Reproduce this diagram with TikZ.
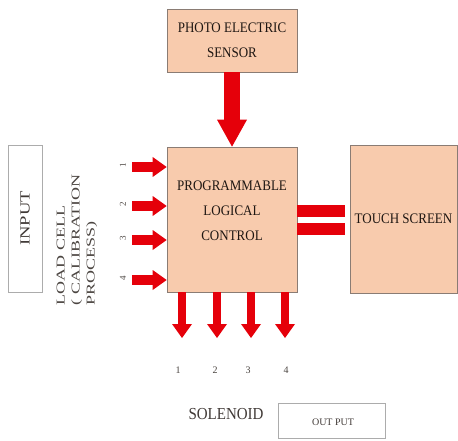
\documentclass[tikz,border=0pt]{standalone}
\usepackage{fontspec}
\setmainfont{Liberation Serif}
\usepackage{graphicx}
\usetikzlibrary{arrows.meta}
\definecolor{peach}{HTML}{F8CBAD}
\definecolor{boxline}{HTML}{8A7C74}
\definecolor{arrred}{HTML}{E5000A}
\definecolor{txt}{HTML}{1E1612}
\newcommand{\tallline}[1]{\scalebox{1}[1.12]{#1}}
\begin{document}
\begin{tikzpicture}[x=1pt,y=-1pt,
  peachbox/.style={draw=boxline, fill=peach, line width=0.7pt, inner sep=0pt},
  graybox/.style={draw=gray!65, line width=0.7pt, inner sep=0pt},
  lbl/.style={font=\fontsize{13}{25}\selectfont, align=center, text=txt, inner sep=0pt},
  num/.style={font=\fontsize{9}{9}\selectfont, text=txt!80, inner sep=0pt},
  inarrow/.style={draw=arrred, line width=10pt, -{Triangle[width=20pt,length=14pt,line width=0pt]}},
  outarrow/.style={draw=arrred, line width=8pt, -{Triangle[width=20pt,length=14pt,line width=0pt]}},
  bigarrow/.style={draw=arrred, line width=16pt, -{Triangle[width=30pt,length=27pt,line width=0pt]}},
  bar/.style={draw=arrred, line width=12pt}]
\useasboundingbox (0,0) rectangle (458,441);

% boxes
\node[peachbox, minimum width=130pt, minimum height=63pt] (ps) at (232,40.5) {};
\node[lbl] (pst) at (ps.center) {\tallline{PHOTO ELECTRIC}\\\tallline{SENSOR}};
\node[peachbox, minimum width=130pt, minimum height=145pt] (plc) at (232,219.5) {};
\node[lbl] (plct) at (232,211) {\tallline{PROGRAMMABLE}\\\tallline{LOGICAL}\\\tallline{CONTROL}};
\node[peachbox, minimum width=107pt, minimum height=148pt] (ts) at (403.5,219) {};
\node[lbl] (tst) at (ts.center) {\tallline{TOUCH SCREEN}};

% input box and load cell
\node[graybox, minimum width=34pt, minimum height=147pt] (inbox) at (25,218.5) {};
\node[rotate=90, font=\fontsize{14}{14}\selectfont, text=txt!85, inner sep=0pt] (inputt) at (inbox.center) {\scalebox{1.33}[1]{INPUT}};
\node[rotate=90, font=\fontsize{12}{15}\selectfont, text=txt!80, align=left, inner sep=0pt] (lc) at (77,240)
  {\scalebox{1.5}[1]{LOAD CELL}\\\scalebox{1.5}[1]{( CALIBRATION}\\\scalebox{1.5}[1]{PROCESS)}};

% input arrows
\foreach \i/\y in {1/167,2/206,3/240,4/280}{
  \coordinate (in\i) at (132,\y);
  \node[num, rotate=90] (inn\i) at (123,\y-2) {\i};
  \draw[inarrow] (in\i) -- (plc.west |- in\i);
}

% sensor arrow
\draw[bigarrow] (ps.south) -- (plc.north);

% bars to touch screen
\draw[bar] (plc.east |- 0,211) -- ([xshift=-5pt]ts.west |- 0,211);
\draw[bar] (plc.east |- 0,229) -- ([xshift=-5pt]ts.west |- 0,229);

% output arrows
\foreach \i/\x/\nx in {1/182/178,2/217/215,3/251/248,4/285/286}{
  \coordinate (out\i) at (\x,338);
  \draw[outarrow] (out\i |- plc.south) -- (out\i);
  \node[num, font=\fontsize{10}{10}\selectfont] (outn\i) at (\nx,370) {\i};
}

% solenoid / output
\node[font=\fontsize{15}{15}\selectfont, text=txt!85, inner sep=0pt] (sol) at (226,414) {\tallline{SOLENOID}};
\node[graybox, minimum width=107pt, minimum height=35pt] (outbox) at (331.5,420.5) {};
\node[font=\fontsize{10}{10}\selectfont, text=txt!85, inner sep=0pt] (outt) at (333,422) {OUT PUT};
\end{tikzpicture}
\end{document}
